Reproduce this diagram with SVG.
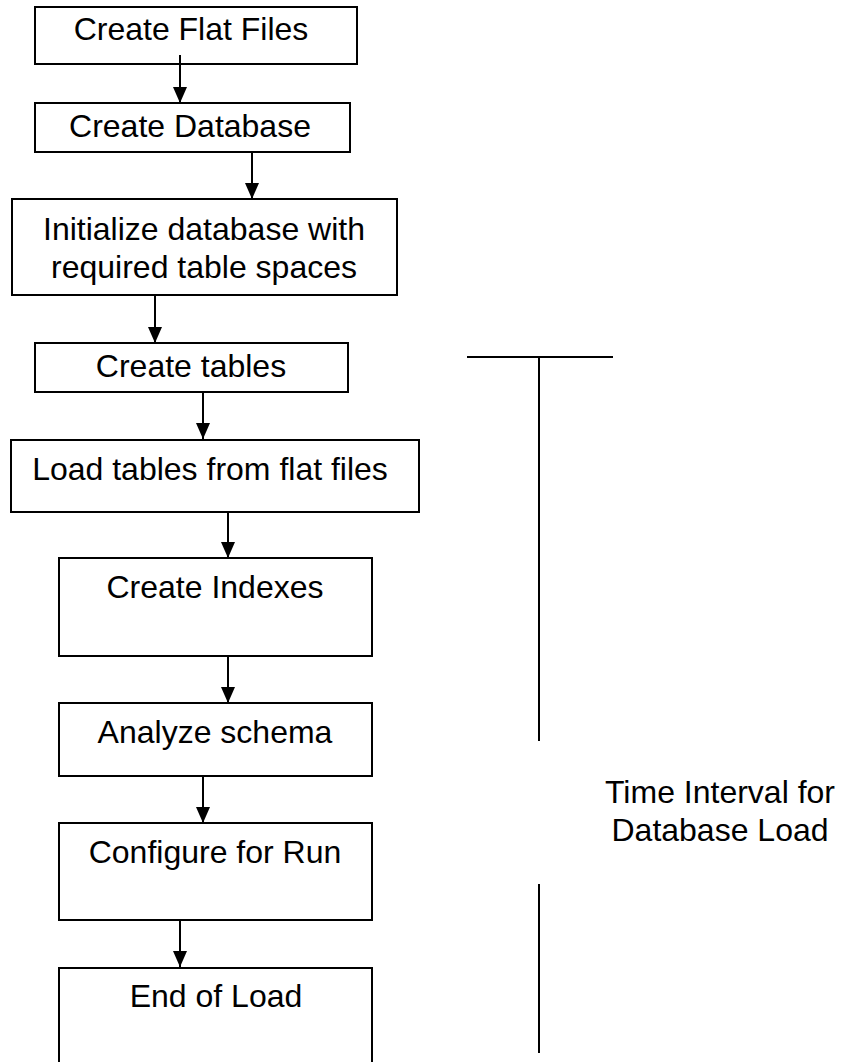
<svg xmlns="http://www.w3.org/2000/svg" width="841" height="1062" viewBox="0 0 841 1062">
  <style>
    .box { fill: #ffffff; stroke: #000000; stroke-width: 2; }
    .lbl { font-family: "Liberation Sans", Arial, sans-serif; font-size: 32px; fill: #000000; text-anchor: middle; }
    .conn { stroke: #000000; stroke-width: 2; fill: none; }
    .bar { stroke: #000000; stroke-width: 2; fill: none; }
  </style>
  <defs>
    <marker id="arrow" markerUnits="userSpaceOnUse" markerWidth="16" markerHeight="14" refX="16" refY="7" orient="auto" viewBox="0 0 16 14">
      <path d="M0,0 L16,7 L0,14 z" fill="#000000"/>
    </marker>
  </defs>
  <rect width="841" height="1062" fill="#ffffff"/>

  <g id="n1">
    <rect class="box" x="35" y="7" width="322" height="57"/>
    <text class="lbl" x="191" y="40">Create Flat Files</text>
  </g>
  <g id="n2">
    <rect class="box" x="35" y="103" width="315" height="49"/>
    <text class="lbl" x="190" y="137">Create Database</text>
  </g>
  <g id="n3">
    <rect class="box" x="12" y="199" width="385" height="96"/>
    <text class="lbl" x="204" y="240">Initialize database with</text>
    <text class="lbl" x="204" y="278">required table spaces</text>
  </g>
  <g id="n4">
    <rect class="box" x="35" y="343" width="313" height="49"/>
    <text class="lbl" x="191" y="377">Create tables</text>
  </g>
  <g id="n5">
    <rect class="box" x="11" y="440" width="408" height="72"/>
    <text class="lbl" x="210" y="480">Load tables from flat files</text>
  </g>
  <g id="n6">
    <rect class="box" x="59" y="558" width="313" height="98"/>
    <text class="lbl" x="215" y="598">Create Indexes</text>
  </g>
  <g id="n7">
    <rect class="box" x="59" y="703" width="313" height="73"/>
    <text class="lbl" x="215" y="743">Analyze schema</text>
  </g>
  <g id="n8">
    <rect class="box" x="59" y="823" width="313" height="97"/>
    <text class="lbl" x="215" y="863">Configure for Run</text>
  </g>
  <g id="n9">
    <rect class="box" x="59" y="968" width="313" height="110"/>
    <text class="lbl" x="216" y="1007">End of Load</text>
  </g>

  <g id="connectors">
    <line class="conn" x1="180" y1="55" x2="180" y2="103" marker-end="url(#arrow)"/>
    <line class="conn" x1="252" y1="152" x2="252" y2="199" marker-end="url(#arrow)"/>
    <line class="conn" x1="155" y1="295" x2="155" y2="343" marker-end="url(#arrow)"/>
    <line class="conn" x1="203" y1="392" x2="203" y2="439" marker-end="url(#arrow)"/>
    <line class="conn" x1="228" y1="512" x2="228" y2="558" marker-end="url(#arrow)"/>
    <line class="conn" x1="228" y1="656" x2="228" y2="703" marker-end="url(#arrow)"/>
    <line class="conn" x1="203" y1="776" x2="203" y2="823" marker-end="url(#arrow)"/>
    <line class="conn" x1="180" y1="920" x2="180" y2="967" marker-end="url(#arrow)"/>
  </g>

  <g id="interval">
    <line class="bar" x1="467" y1="357" x2="613" y2="357"/>
    <line class="bar" x1="539" y1="357" x2="539" y2="741"/>
    <line class="bar" x1="539" y1="884" x2="539" y2="1053"/>
    <text class="lbl" x="720" y="803">Time Interval for</text>
    <text class="lbl" x="720" y="841">Database Load</text>
  </g>
</svg>
